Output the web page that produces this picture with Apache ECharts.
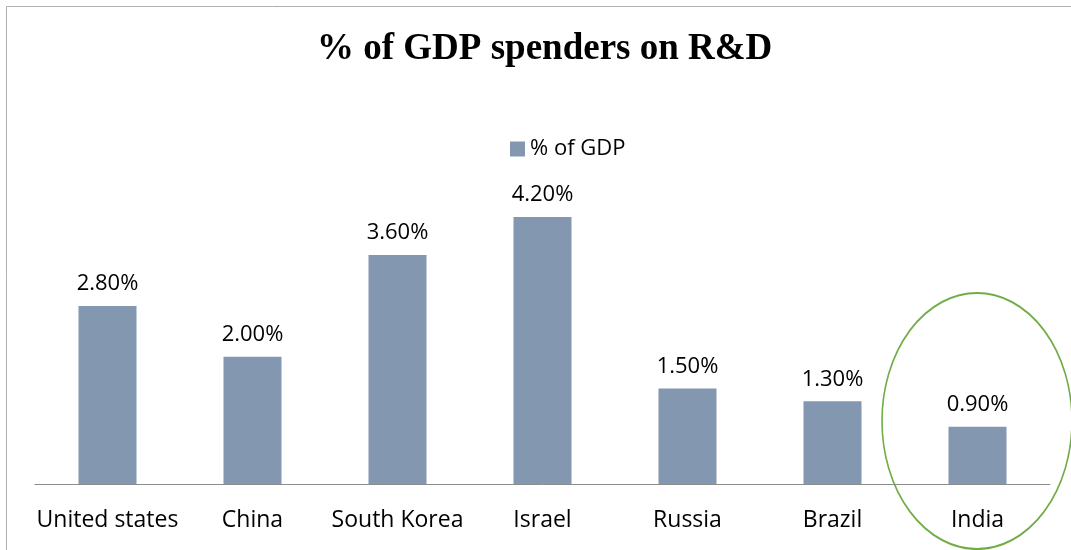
<!DOCTYPE html>
<html>
<head>
<meta charset="utf-8">
<script src="https://cdn.jsdelivr.net/npm/echarts@6/dist/echarts.min.js"></script>
<style>
  html, body { margin: 0; padding: 0; background: #fff; }
  #main { width: 1071px; height: 550px; }
</style>
</head>
<body>
<div id="main"></div>
<script>
var countries = ["United states", "China", "South Korea", "Israel", "Russia", "Brazil", "India"];
var gdpShare = [2.8, 2.0, 3.6, 4.2, 1.5, 1.3, 0.9];

var labelFont = "'Open Sans', 'Noto Sans', sans-serif";

var option = {
  animation: false,
  title: {
    text: "% of GDP spenders on R&D",
    left: 312,
    top: 26,
    textStyle: {
      fontFamily: "'Liberation Serif', 'DejaVu Serif', serif",
      fontWeight: "bold",
      fontSize: 37,
      color: "#000"
    }
  },
  legend: {
    data: ["% of GDP"],
    top: 133,
    left: 505,
    itemWidth: 15,
    itemHeight: 15,
    itemGap: 7,
    icon: "rect",
    textStyle: { fontFamily: labelFont, fontSize: 22, color: "#000" }
  },
  grid: {
    left: 35,
    right: 21,
    top: 166,
    bottom: 66
  },
  xAxis: {
    type: "category",
    data: countries,
    axisLine: { lineStyle: { color: "#8c8c8c", width: 1 } },
    axisTick: { show: false },
    axisLabel: {
      margin: 25,
      interval: 0,
      fontFamily: labelFont,
      fontSize: 23,
      color: "#000"
    }
  },
  yAxis: {
    type: "value",
    min: 0,
    max: 5,
    show: false,
    splitLine: { show: false }
  },
  series: [
    {
      name: "% of GDP",
      type: "bar",
      data: gdpShare,
      barWidth: 58,
      itemStyle: { color: "#8497b0" },
      label: {
        show: true,
        position: "top",
        distance: 11,
        fontFamily: labelFont,
        fontSize: 22,
        color: "#000",
        formatter: function (p) { return p.value.toFixed(2) + "%"; }
      }
    }
  ],
  graphic: [
    {
      type: "line",
      shape: { x1: 6.5, y1: 6.5, x2: 1071, y2: 6.5 },
      style: { stroke: "#b0b0b0", lineWidth: 1 }
    },
    {
      type: "line",
      shape: { x1: 6.5, y1: 6.5, x2: 6.5, y2: 550 },
      style: { stroke: "#b0b0b0", lineWidth: 1 }
    },
    {
      type: "circle",
      x: 977,
      y: 421,
      scaleX: 95 / 128,
      shape: { cx: 0, cy: 0, r: 128 },
      style: { fill: "none", stroke: "#71ad47", lineWidth: 2 / (95 / 128) * 0.8 }
    }
  ]
};

echarts.init(document.getElementById("main")).setOption(option);
</script>
</body>
</html>
